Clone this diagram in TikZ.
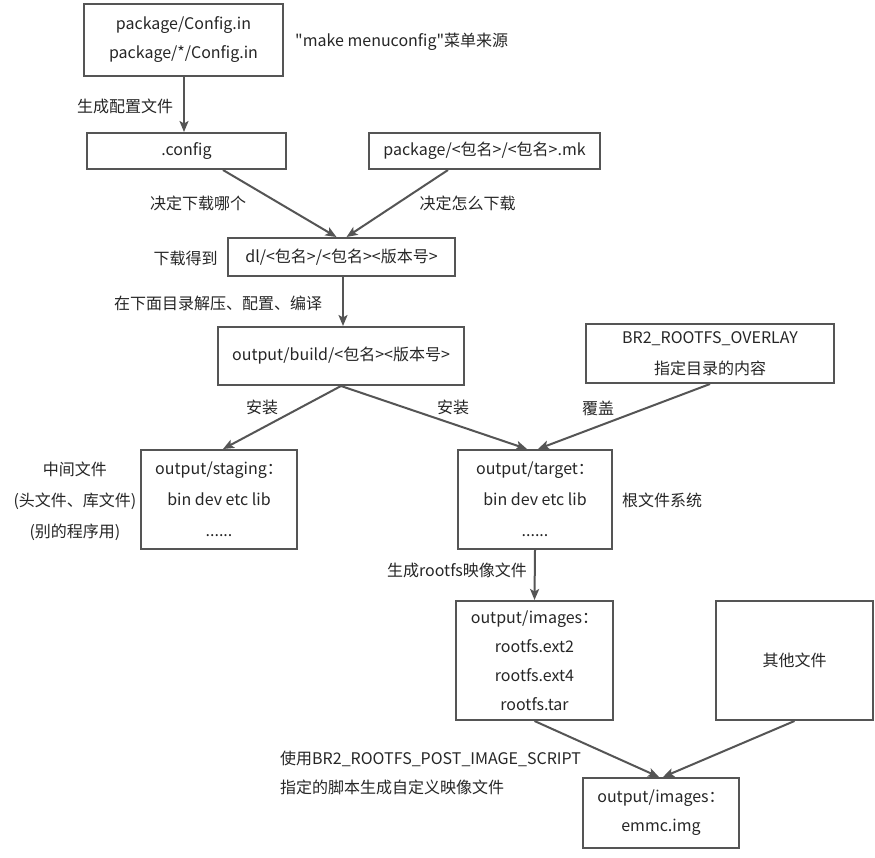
\documentclass[tikz,border=0pt]{standalone}
\usepackage{fontspec}
\setmainfont{Noto Sans CJK SC}[Ligatures=TeXOff]
\usetikzlibrary{arrows.meta,calc}
\definecolor{ln}{HTML}{555555}
\definecolor{tx}{HTML}{262626}
\begin{document}
\begin{tikzpicture}[x=1pt,y=-1pt,
  every node/.style={text=tx,font=\fontsize{16}{29}\selectfont,inner sep=0pt},
  box/.style={draw=ln,line width=2pt,align=center},
  lbl/.style={},
  arr/.style={draw=ln,line width=2pt,-{Stealth[length=11pt,width=9pt,inset=2.5pt]}}]
\useasboundingbox[fill=white] (0,0) rectangle (875,857);
% boxes
\node[box,minimum width=199pt,minimum height=72pt] (box1) at (183.5,40) {package/Config.in\\package/*/Config.in};
\node[box,minimum width=199pt,minimum height=36pt] (config) at (186.5,151) {.config};
\node[box,minimum width=231pt,minimum height=36pt] (mk) at (484.5,151) {package/<包名>/<包名>.mk};
\node[box,minimum width=227pt,minimum height=38pt] (dl) at (341.5,257) {dl/<包名>/<包名><版本号>};
\node[box,minimum width=246pt,minimum height=58pt] (build) at (341,356) {output/build/<包名><版本号>};
\node[box,minimum width=248pt,minimum height=59pt,font=\fontsize{16}{31}\selectfont] (br2) at (710,353.5) {BR2\_ROOTFS\_OVERLAY\\指定目录的内容};
\node[box,minimum width=156pt,minimum height=99pt,font=\fontsize{16}{31}\selectfont] (staging) at (219,499.5) {output/staging：\\bin dev etc lib\\......};
\node[box,minimum width=154pt,minimum height=99pt,font=\fontsize{16}{31}\selectfont] (target) at (535,499.5) {output/target：\\bin dev etc lib\\......};
\node[box,minimum width=157pt,minimum height=119pt] (images) at (534.5,660.5) {output/images：\\rootfs.ext2\\rootfs.ext4\\rootfs.tar};
\node[box,minimum width=157pt,minimum height=119pt] (other) at (794.5,660.5) {其他文件};
\node[box,minimum width=156pt,minimum height=70pt] (emmc) at (661,813) {output/images：\\emmc.img};
% labels
\node[lbl,anchor=west] (lmenu) at (295,42) {"make menuconfig"菜单来源};
\node[lbl] (lgen) at (125,106) {生成配置文件};
\node[lbl] (lwhich) at (198,203) {决定下载哪个};
\node[lbl] (lhow) at (467.5,203) {决定怎么下载};
\node[lbl] (lget) at (185.5,258) {下载得到};
\node[lbl] (lunz) at (218,303) {在下面目录解压、配置、编译};
\node[lbl] (linst1) at (262,407) {安装};
\node[lbl] (linst2) at (453,407) {安装};
\node[lbl] (lcover) at (598,408) {覆盖};
\node[lbl,align=center,font=\fontsize{16}{31}\selectfont] (lmid) at (75,501) {中间文件\\(头文件、库文件)\\(别的程序用)};
\node[lbl,anchor=west] (lroot) at (622,500) {根文件系统};
\node[lbl] (lrootfs) at (457,570) {生成rootfs映像文件};
\node[lbl,anchor=west,align=left] (lpost) at (280,772.5) {使用BR2\_ROOTFS\_POST\_IMAGE\_SCRIPT\\指定的脚本生成自定义映像文件};
% connectors
\draw[arr] ([xshift=0.5pt]box1.south) -- ([xshift=0.5pt]box1.south |- config.north);
\draw[arr] ([xshift=36.5pt]config.south) -- ([xshift=-5pt]dl.north);
\draw[arr] ([xshift=-36.5pt]mk.south) -- ([xshift=5pt]dl.north);
\draw[arr] ([xshift=1.5pt]dl.south) -- ([xshift=1.5pt]dl.south |- build.north);
\draw[arr] (build.south) -- ([xshift=4pt]staging.north);
\draw[arr] (build.south) -- ([xshift=-8pt]target.north);
\draw[arr] (br2.south) -- ([xshift=3pt]target.north);
\draw[arr] (target.south) -- (images.north);
\draw[arr] (images.south) -- ([xshift=-2pt]emmc.north);
\draw[arr] (other.south) -- ([xshift=2pt]emmc.north);
\end{tikzpicture}
\end{document}
